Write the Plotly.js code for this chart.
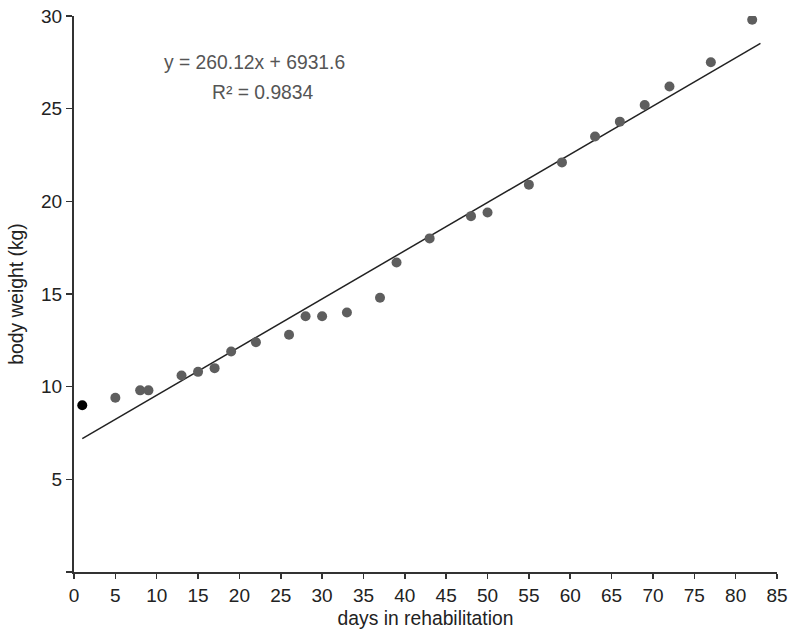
<!DOCTYPE html>
<html>
<head>
<meta charset="utf-8">
<script src="https://cdn.plot.ly/plotly-3.0.1.min.js"></script>
<style>html,body{margin:0;padding:0;background:#fff;}#chart{width:796px;height:637px;}</style>
</head>
<body>
<div id="chart"></div>
<script>
// Data
const firstDay = [1];
const firstWeight = [9.0];
const days = [5, 8, 9, 13, 15, 17, 19, 22, 26, 28, 30, 33, 37, 39, 43, 48, 50, 55, 59, 63, 66, 69, 72, 77, 82];
const weights = [9.4, 9.8, 9.8, 10.6, 10.8, 11.0, 11.9, 12.4, 12.8, 13.8, 13.8, 14.0, 14.8, 16.7, 18.0, 19.2, 19.4, 20.9, 22.1, 23.5, 24.3, 25.2, 26.2, 27.5, 29.8];
// Trend line: y = 260.12x + 6931.6 (grams) -> kg
const slopeKg = 0.26012;
const interceptKg = 6.9316;
const trendDays = [1, 83];
const trendWeights = trendDays.map(d => slopeKg * d + interceptKg);
const xTicks = [0, 5, 10, 15, 20, 25, 30, 35, 40, 45, 50, 55, 60, 65, 70, 75, 80, 85];
const yTicks = [0, 5, 10, 15, 20, 25, 30];
const yTickText = ['', '5', '10', '15', '20', '25', '30'];
const eqLine1 = 'y = 260.12x + 6931.6';
const eqLine2 = 'R² = 0.9834';

const font = '"Liberation Sans", Arial, sans-serif';

const traces = [
  {x: trendDays, y: trendWeights, mode: 'lines', type: 'scatter',
   line: {color: '#222', width: 1.5}, hoverinfo: 'skip'},
  {x: days, y: weights, mode: 'markers', type: 'scatter',
   marker: {color: '#5e5e5e', size: 10}},
  {x: firstDay, y: firstWeight, mode: 'markers', type: 'scatter',
   marker: {color: '#000', size: 10}}
];

const layout = {
  width: 796, height: 637,
  margin: {l: 74, r: 19, t: 16, b: 65},
  showlegend: false,
  paper_bgcolor: '#fff', plot_bgcolor: '#fff',
  font: {family: font, color: '#222', size: 19},
  xaxis: {
    range: [0, 85], tickvals: xTicks, ticktext: xTicks.map(String),
    showgrid: false, zeroline: false, showline: true, linecolor: '#333', linewidth: 2,
    ticks: 'outside', ticklen: 5, tickwidth: 1.5, tickcolor: '#333',
    tickfont: {family: font, size: 19, color: '#222'},
    title: {text: 'days in rehabilitation', font: {family: font, size: 19.3, color: '#222'}, standoff: 7}
  },
  yaxis: {
    range: [0, 30], tickvals: yTicks, ticktext: yTickText,
    showgrid: false, zeroline: false, showline: true, linecolor: '#333', linewidth: 2,
    ticks: 'outside', ticklen: 6, tickwidth: 1.5, tickcolor: '#333',
    tickfont: {family: font, size: 19, color: '#222'},
    title: {text: 'body weight (kg)', font: {family: font, size: 19.3, color: '#222'}, standoff: 12}
  },
  annotations: [
    {x: 21.8, y: 27.5, xref: 'x', yref: 'y', text: eqLine1, showarrow: false,
     font: {family: font, size: 19.3, color: '#555'}, xanchor: 'center', yanchor: 'middle'},
    {x: 22.8, y: 25.85, xref: 'x', yref: 'y', text: eqLine2, showarrow: false,
     font: {family: font, size: 19.3, color: '#555'}, xanchor: 'center', yanchor: 'middle'}
  ]
};

Plotly.newPlot('chart', traces, layout, {displayModeBar: false, staticPlot: true});
</script>
</body>
</html>
